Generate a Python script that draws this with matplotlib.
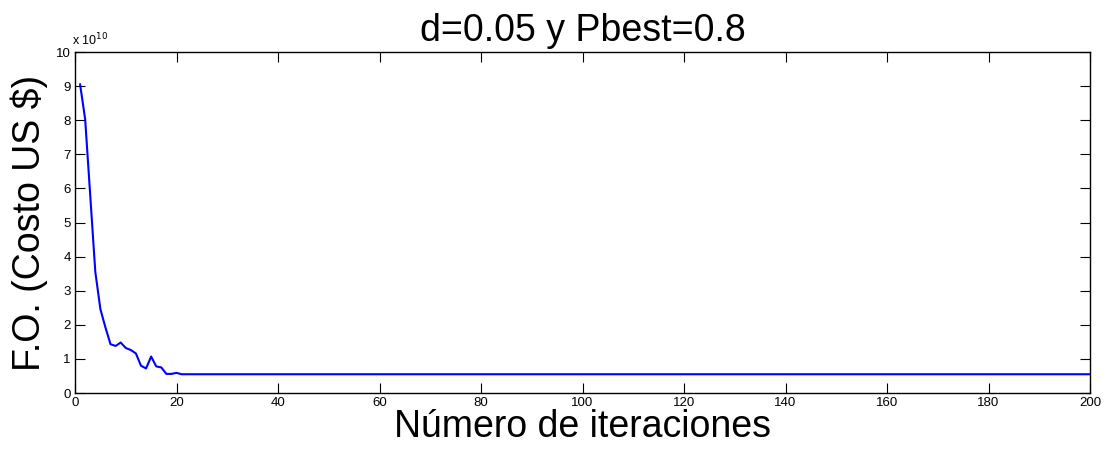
import numpy as np
import matplotlib.pyplot as plt

plt.rcParams['font.family'] = ['Liberation Sans', 'DejaVu Sans']

# costo (en unidades de 1e10 US$) por iteracion
iter_inicio = np.arange(1, 22)
costo_inicio = [9.05, 8.03, 5.8, 3.55, 2.46, 1.92, 1.43, 1.38, 1.48, 1.32, 1.26,
                1.16, 0.80, 0.72, 1.07, 0.78, 0.75, 0.56, 0.56, 0.59, 0.55]
iter_resto = np.arange(22, 201)
costo_resto = [0.55] * len(iter_resto)

iteraciones = np.concatenate([iter_inicio, iter_resto])
costo = np.array(costo_inicio + costo_resto) * 1e10

xticks = np.arange(0, 201, 20)
yticks = np.arange(0, 11, 1)

fig = plt.figure(figsize=(11.08, 4.51), dpi=100)
ax = fig.add_axes([0.0677, 0.1286, 0.9161, 0.7561])
ax.plot(iteraciones, costo / 1e10, color='#0000ff', linewidth=1.5)

ax.set_xlim(0, 200)
ax.set_ylim(0, 10)
ax.set_xticks(xticks)
ax.set_yticks(yticks)
ax.tick_params(direction='in', top=True, right=True, labelsize=9.5, length=7, width=0.8, pad=3)
for s in ax.spines.values():
    s.set_linewidth(1.0)

ax.text(-0.003, 1.012, r'x 10$^{10}$', transform=ax.transAxes, fontsize=9, ha='left', va='bottom')
ax.set_title('d=0.05 y Pbest=0.8', fontsize=27, pad=8)
ax.set_xlabel('Número de iteraciones', fontsize=27, labelpad=0)
ax.set_ylabel('F.O. (Costo US $)', fontsize=27, labelpad=6)

plt.savefig('out.png', dpi=100)
